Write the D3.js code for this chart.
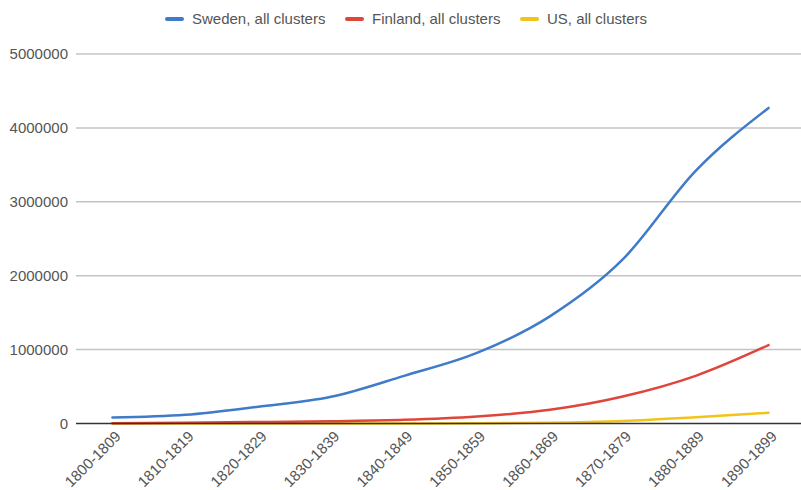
<!DOCTYPE html>
<html><head><meta charset="utf-8">
<script src="https://cdn.jsdelivr.net/npm/d3@7"></script>
<style>
html,body{margin:0;padding:0;background:#fff;}
text{font-family:"Liberation Sans",Arial,sans-serif;}
</style></head>
<body>
<svg id="chart" width="801" height="490"></svg>
<script>
const categories = ["1800-1809","1810-1819","1820-1829","1830-1839","1840-1849","1850-1859","1860-1869","1870-1879","1880-1889","1890-1899"];
const sweden  = [80000, 118000, 228000, 362000, 645000, 955000, 1450000, 2220000, 3420000, 4270000];
const finland = [5000, 10000, 20000, 32000, 50000, 95000, 185000, 365000, 645000, 1060000];
const us      = [0, 0, 0, 0, 500, 2000, 10000, 35000, 85000, 145000];
const yTicks  = [0, 1000000, 2000000, 3000000, 4000000, 5000000];
const seriesNames = ["Sweden, all clusters","Finland, all clusters","US, all clusters"];
const seriesColors = ["#3f7bc8","#e0453b","#f2c31a"];

(function(){
const svg = d3.select("#chart");
const mLeft = 76, mRight = 805, mTop = 54, mBottom = 423.5;

const x = d3.scalePoint().domain(categories).range([mLeft, mRight]).padding(0.5);
const y = d3.scaleLinear().domain([0, 5000000]).range([mBottom, mTop]);

// gridlines
svg.append("g").selectAll("line").data(yTicks.filter(d=>d>0)).join("line")
  .attr("x1", mLeft).attr("x2", 801)
  .attr("y1", d=>y(d)).attr("y2", d=>y(d))
  .attr("stroke", "#c4c4c4").attr("stroke-width", 1.5);

// y labels
const yAxis = d3.axisLeft(y).tickValues(yTicks).tickSize(0).tickPadding(0).tickFormat(d3.format("d"));
const ya = svg.append("g").attr("transform", `translate(${mLeft-8},0)`).call(yAxis);
ya.select(".domain").remove();
ya.selectAll("text").attr("font-size", 15).attr("fill", "#555").attr("font-family", "Liberation Sans, Arial, sans-serif");

// lines
const line = d3.line().x((d,i)=>x(categories[i])).y(d=>y(d)).curve(d3.curveMonotoneX);
const allSeries = [us, finland, sweden];
const order = [2,1,0];
allSeries.forEach((s, k) => {
  svg.append("path").datum(s).attr("d", line)
    .attr("fill", "none").attr("stroke", seriesColors[order[k]])
    .attr("stroke-width", 2.5).attr("stroke-linejoin","round").attr("stroke-linecap","round");
});

// baseline
svg.append("line").attr("x1", mLeft).attr("x2", 801).attr("y1", y(0)).attr("y2", y(0))
  .attr("stroke", "#333").attr("stroke-width", 1.5);

// x labels
const xAxis = d3.axisBottom(x).tickSize(0).tickPadding(0);
const xa = svg.append("g").attr("transform", `translate(0,${mBottom})`).call(xAxis);
xa.select(".domain").remove();
xa.selectAll("text")
  .attr("font-size", 15).attr("fill", "#555").attr("font-family", "Liberation Sans, Arial, sans-serif")
  .attr("text-anchor", "end")
  .attr("dy", null).attr("y", null)
  .attr("transform", "translate(6,11) rotate(-45)")
  .attr("dominant-baseline", "middle");

// legend
const legendX = [167, 347, 522];
const lg = svg.append("g");
seriesNames.forEach((name, i) => {
  lg.append("line").attr("x1", legendX[i]).attr("x2", legendX[i]+15).attr("y1", 19).attr("y2", 19)
    .attr("stroke", seriesColors[i]).attr("stroke-width", 4).attr("stroke-linecap","round");
  lg.append("text").attr("x", legendX[i]+25).attr("y", 19).attr("dy","0.35em")
    .attr("font-size", 15).attr("fill", "#555").text(name);
});
})();
</script>
</body></html>
